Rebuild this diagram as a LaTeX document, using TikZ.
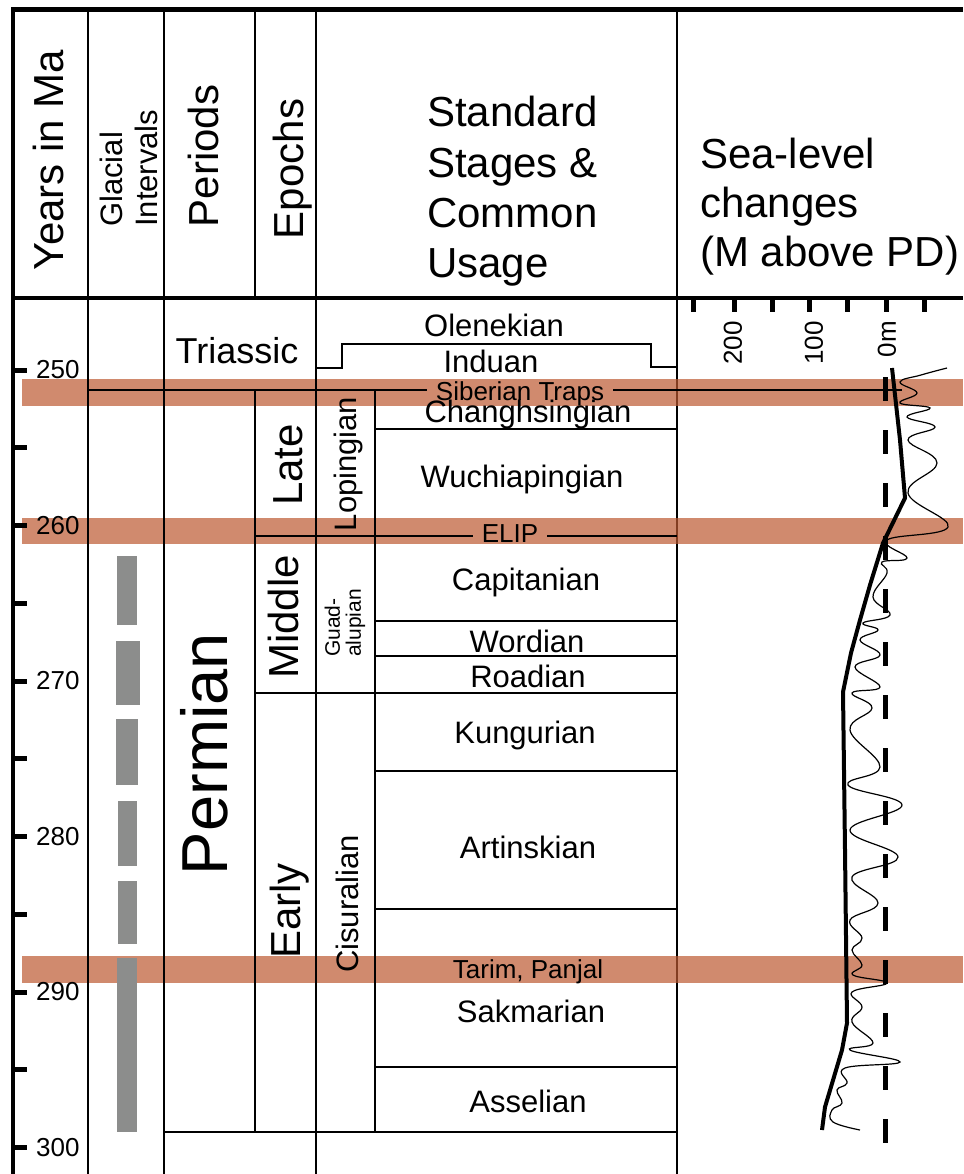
\documentclass[tikz,border=0pt]{standalone}
\usepackage{fontspec}
\setmainfont{Liberation Sans}
\definecolor{traps}{RGB}{188,88,48}
\definecolor{glacial}{RGB}{140,141,140}

\begin{document}
\begin{tikzpicture}[x=1pt, y=-1pt, head/.style={inner sep=0, font=\fontsize{42}{50}\selectfont}, headsmall/.style={inner sep=0, align=left, font=\fontsize{31}{35}\selectfont}, stagename/.style={inner sep=0, font=\fontsize{31}{35}\selectfont}, eventname/.style={inner sep=0, inner xsep=9pt, font=\fontsize{26}{30}\selectfont}, agelabel/.style={inner sep=0, font=\fontsize{26}{30}\selectfont}, colline/.style={line width=2.7pt}, thinline/.style={line width=2pt}, stageline/.style={line width=2.5pt}, band/.style={fill=traps, fill opacity=0.7}, iceage/.style={fill=glacial}, axtick/.style={line width=5pt}]

    \useasboundingbox (0,0) rectangle (963,1174);

    %Frame under the bands
    \draw[colline] (677,10) -- (677,1174);

    %Bands
    \fill[band] (22,379) rectangle (963,406);
    \fill[band] (22,518) rectangle (963,544);
    \fill[band] (22,956) rectangle (963,983);

    %Nodes
    \node[head, rotate=90, anchor=base](years) at (63,160) {Years in Ma};
    \node[headsmall, rotate=90, anchor=west](glacial) at (129,227) {Glacial\\Intervals};
    \node[head, rotate=90, anchor=base](periods) at (218,156) {Periods};
    \node[head, rotate=90, anchor=base](epochs) at (303,169) {Epochs};
    \node[head, align=left, anchor=base west](stages) at (427,277) {Standard\\Stages \&\\Common\\Usage};
    \node[head, align=left, anchor=base west, font=\fontsize{42}{48.5}\selectfont](sealevel) at (700,266) {Sea-level\\changes\\(M above PD)};

    \node[inner sep=0, font=\fontsize{36}{40}\selectfont, anchor=base](triassic) at (237,363) {Triassic};
    \node[inner sep=0, font=\fontsize{65}{70}\selectfont, rotate=90, anchor=base](permian) at (227,754) {Permian};

    \node[head, rotate=90, anchor=base](late) at (302,465) {Late};
    \node[head, rotate=90, anchor=base](middle) at (298,617) {Middle};
    \node[head, rotate=90, anchor=base](early) at (300,911) {Early};
    \node[stagename, rotate=90, anchor=base](lopingian) at (356,464) {Lopingian};
    \node[inner sep=0, align=left, font=\fontsize{21}{21}\selectfont, rotate=90, anchor=west](guadalupian) at (345,657) {Guad-\\alupian};
    \node[stagename, rotate=90, anchor=base](cisuralian) at (358,904) {Cisuralian};

    \node[stagename, anchor=base](olenekian) at (494,336) {Olenekian};
    \node[stagename, anchor=base](induan) at (491,372) {Induan};
    \node[eventname, anchor=base](siberian) at (520,400) {Siberian Traps};
    \node[stagename, anchor=base](changhsingian) at (528,422) {Changhsingian};
    \node[stagename, anchor=base](wuchiapingian) at (522,487) {Wuchiapingian};
    \node[eventname, anchor=base](elip) at (510,542) {ELIP};
    \node[stagename, anchor=base](capitanian) at (526,590) {Capitanian};
    \node[stagename, anchor=base](wordian) at (527,652) {Wordian};
    \node[stagename, anchor=base](roadian) at (528,687) {Roadian};
    \node[stagename, anchor=base](kungurian) at (525,743) {Kungurian};
    \node[stagename, anchor=base](artinskian) at (528,858) {Artinskian};
    \node[eventname, anchor=base](tarim) at (528,978) {Tarim, Panjal};
    \node[stagename, anchor=base](sakmarian) at (531,1022) {Sakmarian};
    \node[stagename, anchor=base](asselian) at (528,1112) {Asselian};

    \node[agelabel, anchor=west](a250) at (36,370) {250};
    \node[agelabel, anchor=west](a260) at (36,525.5) {260};
    \node[agelabel, anchor=west](a270) at (36,681) {270};
    \node[agelabel, anchor=west](a280) at (36,836.5) {280};
    \node[agelabel, anchor=west](a290) at (36,992) {290};
    \node[agelabel, anchor=west](a300) at (36,1147.5) {300};

    \node[agelabel, rotate=90, anchor=east](m200) at (733,321) {200};
    \node[agelabel, rotate=90, anchor=east](m100) at (814,321) {100};
    \node[agelabel, rotate=90, anchor=east](m0) at (887,321) {0m};

    \coordinate (trapsend) at (902,390);
    \coordinate (elipend) at (677,536);

    %Lines
    \draw[line width=5pt] (11,10) -- (963,10);
    \draw[line width=4pt] (13,10) -- (13,1174);
    \draw[line width=4pt] (13,298) -- (963,298);
    \draw[colline] (88,10) -- (88,1174);
    \draw[colline] (164,10) -- (164,1174);
    \draw[colline] (316,10) -- (316,1174);
    \draw[colline] (255,10) -- (255,298);
    \draw[thinline] (255,390) -- (255,1132);
    \draw[thinline] (375,390) -- (375,1132);

    \draw[stageline] (88,390) -- (siberian.west |- trapsend);
    \draw[stageline] (siberian.east |- trapsend) -- (trapsend);
    \draw[stageline] (255,536) -- (elip.west |- elipend);
    \draw[stageline] (elip.east |- elipend) -- (elipend);
    \draw[stageline] (316,368) -- (342,368) -- (342,344) -- (651,344) -- (651,367) -- (677,367);
    \draw[stageline] (375,429) -- (677,429);
    \draw[stageline] (375,621) -- (677,621);
    \draw[stageline] (375,656) -- (677,656);
    \draw[stageline] (255,693) -- (677,693);
    \draw[stageline] (375,771) -- (677,771);
    \draw[stageline] (375,909) -- (677,909);
    \draw[stageline] (375,1067) -- (677,1067);
    \draw[stageline] (164,1132) -- (677,1132);

    %Ticks
    \draw[axtick] (13,370) -- (27,370);
    \draw[axtick] (13,447.75) -- (27,447.75);
    \draw[axtick] (13,525.5) -- (27,525.5);
    \draw[axtick] (13,603.25) -- (27,603.25);
    \draw[axtick] (13,681) -- (27,681);
    \draw[axtick] (13,758.75) -- (27,758.75);
    \draw[axtick] (13,836.5) -- (27,836.5);
    \draw[axtick] (13,914.25) -- (27,914.25);
    \draw[axtick] (13,992) -- (27,992);
    \draw[axtick] (13,1069.75) -- (27,1069.75);
    \draw[axtick] (13,1147.5) -- (27,1147.5);

    \draw[axtick] (693,298) -- (693,312);
    \draw[axtick] (734,298) -- (734,312);
    \draw[axtick] (772,298) -- (772,312);
    \draw[axtick] (809,298) -- (809,312);
    \draw[axtick] (847,298) -- (847,312);
    \draw[axtick] (886,298) -- (886,312);
    \draw[axtick] (924,298) -- (924,312);

    %Glacial intervals
    \fill[iceage] (117,556) rectangle (137,625);
    \fill[iceage] (116,641) rectangle (140,705);
    \fill[iceage] (116,719) rectangle (138,785);
    \fill[iceage] (118,801) rectangle (137,866);
    \fill[iceage] (118,881) rectangle (137,944);
    \fill[iceage] (117,958) rectangle (137,1132);

    %Sea level
    \draw[line width=5pt, dash pattern=on 24pt off 29pt] (885,377) -- (885,1147);
    \draw[line width=1.2pt] plot[smooth, tension=0.7] coordinates {(947,368) (921,375) (900,382) (917,393) (900,403) (930,408) (907,417) (935,427) (908,440) (937,463) (908,493) (948,527) (887,540) (907,558) (882,562) (887,573) (873,597) (890,615) (863,623) (878,630) (860,640) (880,655) (855,667) (880,687) (852,693) (872,708) (850,730) (880,767) (848,785) (902,805) (850,830) (898,857) (852,877) (878,903) (850,920) (862,938) (852,950) (862,965) (853,975) (887,983) (852,992) (862,1007) (852,1022) (873,1043) (850,1050) (900,1062) (845,1068) (847,1083) (837,1090) (842,1103) (832,1110) (833,1122) (860,1130)};
    \draw[line width=4pt, line join=round] (892,368) -- (900,440) -- (905,498) -- (883,543) -- (870,585) -- (860,620) -- (851,653) -- (843,692) -- (845,850) -- (847,1023) -- (842,1050) -- (825,1107) -- (822,1130);

\end{tikzpicture}
\end{document}
